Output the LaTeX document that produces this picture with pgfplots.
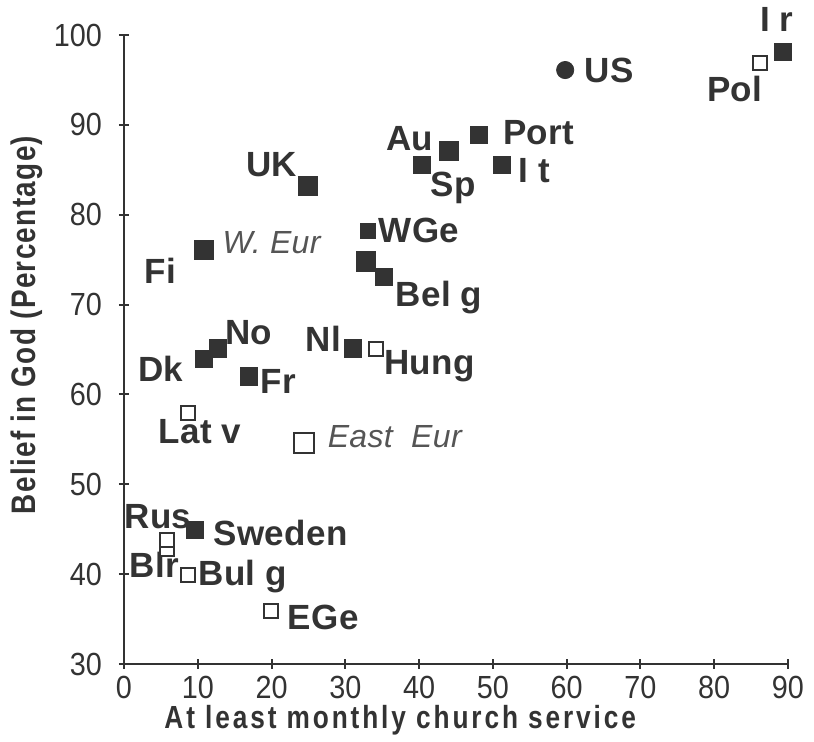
\documentclass[border=0pt]{standalone}
\usepackage{fontspec}
\setmainfont{Liberation Sans}
\newfontfamily\ticksfont[FakeStretch=0.9]{Liberation Sans}
\newfontfamily\labfont[LetterSpace=1]{Liberation Sans}
\newfontfamily\xlabfont[FakeStretch=0.82,LetterSpace=9]{Liberation Sans}
\newfontfamily\ylabfont[FakeStretch=0.82,LetterSpace=4]{Liberation Sans}
\usepackage{pgfplots}
\pgfplotsset{compat=1.18}
\definecolor{ink}{HTML}{333333}
\definecolor{inkl}{HTML}{555555}
\tikzset{
  lab/.style={font=\labfont\bfseries\fontsize{17.5}{19}\selectfont, text=ink, inner sep=0pt},
  ilab/.style={font=\labfont\itshape\fontsize{16}{18}\selectfont, text=inkl, inner sep=0pt},
}
\begin{document}
\begin{tikzpicture}
\begin{axis}[
  scale only axis, width=332pt, height=314.5pt,
  xmin=0, xmax=90, ymin=30, ymax=100,
  axis lines*=left,
  axis line style={ink, line width=1pt},
  xtick={0,10,...,90}, ytick={30,40,...,100},
  tick align=center, major tick length=5pt,
  tick style={ink, line width=1pt},
  ticklabel style={font=\ticksfont\fontsize{16}{18}\selectfont, text=ink},
  yticklabel style={xshift=-5pt},
  /pgf/number format/assume math mode=true,
  xlabel={At least monthly church service},
  xlabel style={font=\xlabfont\bfseries\fontsize{16}{18}\selectfont, text=ink, at={(axis description cs:0.416,-0.089)}, anchor=center},
  ylabel={Belief in God (Percentage)},
  ylabel style={font=\ylabfont\bfseries\fontsize{17}{19}\selectfont, text=ink, at={(axis description cs:-0.146,0.539)}, anchor=center},
  clip=false,
]
% filled squares, normal
\addplot[only marks, mark=square*, mark size=4.3pt, mark options={fill=ink, draw=ink, line width=0pt}] coordinates {
  (89.3,98.1) (48.1,88.9) (40.4,85.5) (51.2,85.5) (35.2,73.1)
  (12.7,65.1) (10.8,63.9) (16.9,62.0) (31.0,65.1) (9.6,44.9)
};
% filled squares, large
\addplot[only marks, mark=square*, mark size=4.8pt, mark options={fill=ink, draw=ink, line width=0pt}] coordinates {
  (44.0,87.1) (24.9,83.2) (10.8,76.1) (32.8,74.8)
};
% filled square, small
\addplot[only marks, mark=square*, mark size=3.8pt, mark options={fill=ink, draw=ink, line width=0pt}] coordinates {
  (33.1,78.2)
};
% open squares
\addplot[only marks, mark=square*, mark size=3.5pt, mark options={fill=white, draw=ink, line width=1pt}] coordinates {
  (86.2,96.9) (34.1,65.1) (8.7,57.9) (5.8,42.8) (5.8,43.8) (8.7,39.9) (19.9,35.9)
};
% open square, large (East Eur mean)
\addplot[only marks, mark=square*, mark size=5.2pt, mark options={fill=white, draw=ink, line width=1pt}] coordinates {
  (24.4,54.6)
};
% US circle
\addplot[only marks, mark=*, mark size=4.3pt, mark options={fill=ink, draw=ink}] coordinates {
  (59.8,96.1)
};
% labels
\node[lab] at (axis cs:65.8,96.1) {US};
\node[lab] at (axis cs:88.5,101.7) {I r};
\node[lab] at (axis cs:82.8,94.0) {Pol};
\node[lab] at (axis cs:56.2,89.1) {Port};
\node[lab] at (axis cs:38.7,88.5) {Au};
\node[lab] at (axis cs:44.6,83.0) {Sp};
\node[lab] at (axis cs:55.6,84.9) {I t};
\node[lab] at (axis cs:20.0,85.6) {UK};
\node[lab] at (axis cs:40.0,78.3) {WGe};
\node[ilab] at (axis cs:20.0,76.9) {W. Eur};
\node[lab] at (axis cs:4.9,73.8) {Fi};
\node[lab] at (axis cs:42.7,70.8) {Bel g};
\node[lab] at (axis cs:16.9,66.9) {No};
\node[lab] at (axis cs:5.0,62.8) {Dk};
\node[lab] at (axis cs:20.9,61.4) {Fr};
\node[lab] at (axis cs:27.0,66.2) {Nl};
\node[lab] at (axis cs:41.4,63.1) {Hung};
\node[lab] at (axis cs:10.3,55.9) {Lat v};
\node[ilab] at (axis cs:36.7,55.3) {East\ \ Eur};
\node[lab] at (axis cs:21.2,44.6) {Sweden};
\node[lab] at (axis cs:4.6,46.4) {Rus};
\node[lab] at (axis cs:4.1,41.0) {Blr};
\node[lab] at (axis cs:16.1,39.7) {Bul g};
\node[lab] at (axis cs:27.0,35.2) {EGe};
\end{axis}
\pgfresetboundingbox
\path[use as bounding box] (current axis.south west) ++(-62pt,-39pt) rectangle ++(407pt,371pt);
\end{tikzpicture}
\end{document}
